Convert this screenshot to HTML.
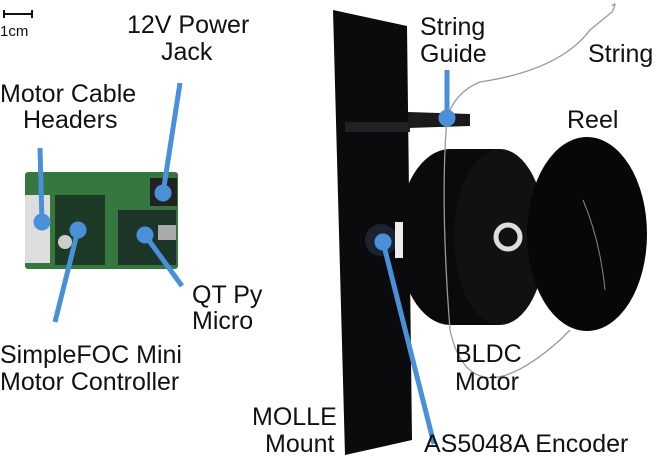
<!DOCTYPE html>
<html><head><meta charset="utf-8"><style>
html,body{margin:0;padding:0;background:#fff;width:656px;height:467px;overflow:hidden}
svg{display:block}
text{font-family:"Liberation Sans",Arial,sans-serif;font-size:25px;fill:#111}
</style></head><body>
<svg width="656" height="467" viewBox="0 0 656 467">
<line x1="4" y1="14" x2="32" y2="14" stroke="#111" stroke-width="2"/>
<line x1="4" y1="10" x2="4" y2="18" stroke="#111" stroke-width="2"/>
<line x1="32" y1="10" x2="32" y2="18" stroke="#111" stroke-width="2"/>
<text x="0" y="36" style="font-size:15px">1cm</text>

<rect x="25" y="172" width="153" height="97" rx="3" fill="#36773f"/>
<rect x="25" y="195" width="25" height="68" fill="#ddd"/>
<rect x="55" y="195" width="50" height="70" fill="#1c3a26"/>
<rect x="118" y="210" width="58" height="55" fill="#1d3528"/>
<rect x="150" y="178" width="27" height="28" fill="#222"/>
<rect x="158" y="225" width="18" height="15" fill="#aaa"/>
<circle cx="65" cy="242" r="7" fill="#ccc"/>

<polygon points="333,10 407,26 412,440 345,455" fill="#0b0b0d"/>
<rect x="345" y="122" width="65" height="10" fill="#222"/>
<polygon points="408,112 470,114 470,126 408,128" fill="#1a1a1a"/>

<ellipse cx="450" cy="237" rx="52" ry="88" fill="#0a0a0c"/>
<rect x="450" y="149" width="50" height="176" fill="#0a0a0c"/>
<ellipse cx="500" cy="237" rx="46" ry="88" fill="#111114"/>
<circle cx="508" cy="237" r="12" fill="none" stroke="#ddd" stroke-width="5"/>
<ellipse cx="587" cy="234" rx="60" ry="97" fill="#07070a"/>
<path d="M583 200 Q600 240 605 290" stroke="#888" fill="none" stroke-width="1"/>

<circle cx="381" cy="240" r="16" fill="#1b2230"/>
<rect x="395" y="222" width="8" height="36" fill="#eee"/>

<path d="M612 6 Q618 0 612 12 L590 30 Q560 70 480 82 Q455 92 447 118 Q440 200 450 330 Q470 420 560 340 L570 330" stroke="#999" fill="none" stroke-width="1.3"/>

<g stroke="#4a90d9" stroke-width="5" fill="#4a90d9">
<line x1="40" y1="148" x2="42" y2="222"/><circle cx="42" cy="222" r="6"/>
<line x1="180" y1="83" x2="163" y2="193"/><circle cx="163" cy="193" r="6"/>
<line x1="78" y1="230" x2="55" y2="322"/><circle cx="78" cy="230" r="6"/>
<line x1="145" y1="235" x2="182" y2="286"/><circle cx="145" cy="235" r="6"/>
<line x1="447" y1="70" x2="447" y2="118"/><circle cx="447" cy="118" r="6"/>
<line x1="383" y1="242" x2="434" y2="444"/><circle cx="383" cy="242" r="6"/>
</g>

<text x="127" y="33">12V Power</text>
<text x="161" y="60">Jack</text>
<text x="0" y="102">Motor Cable</text>
<text x="23" y="128">Headers</text>
<text x="192" y="303">QT Py</text>
<text x="192" y="329">Micro</text>
<text x="0" y="363">SimpleFOC Mini</text>
<text x="0" y="390">Motor Controller</text>
<text x="252" y="425">MOLLE</text>
<text x="265" y="452">Mount</text>
<text x="424" y="452">AS5048A Encoder</text>
<text x="455" y="362">BLDC</text>
<text x="455" y="390">Motor</text>
<text x="567" y="128">Reel</text>
<text x="420" y="35">String</text>
<text x="420" y="62">Guide</text>
<text x="588" y="62">String</text>
</svg>
</body></html>
